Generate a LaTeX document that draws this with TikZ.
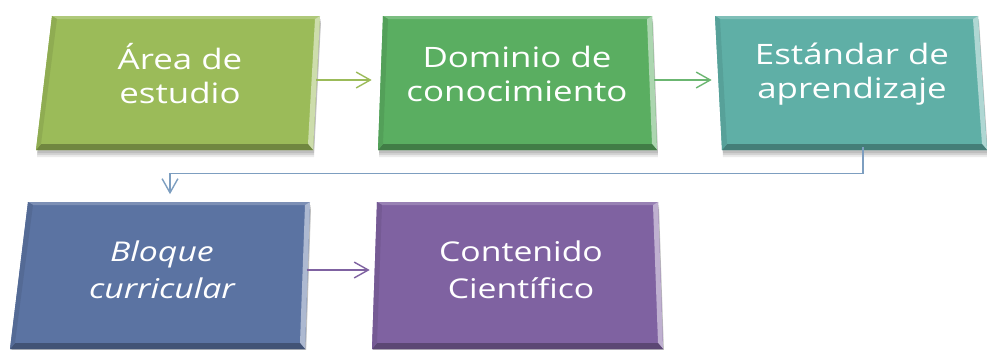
\documentclass[tikz,border=0pt]{standalone}
\usepackage{fontspec}
\setmainfont[FakeStretch=1.24]{Open Sans}
\usetikzlibrary{calc,arrows.meta}

\definecolor{areaclr}{HTML}{9BBB59}
\definecolor{dominioclr}{HTML}{5AAE61}
\definecolor{estandarclr}{HTML}{5FAFA6}
\definecolor{bloqueclr}{HTML}{5B73A2}
\definecolor{contenidoclr}{HTML}{7F62A1}
\definecolor{linkclr}{HTML}{7D9EC0}

% bevelled box: colour, top left, top right, bottom right, bottom left (pixels)
\newcommand{\bevelbox}[5]{%
  \coordinate (tl) at #2; \coordinate (tr) at #3;
  \coordinate (br) at #4; \coordinate (bl) at #5;
  \foreach \dy/\op in {3/0.10,5/0.10,7/0.08}
    \fill[black,opacity=\op] ($(tl)+(1,\dy)$) -- ($(tr)+(1,\dy)$)
      -- ($(br)+(1,\dy)$) -- ($(bl)+(1,\dy)$) -- cycle;
  \fill[#1] (tl) -- (tr) -- (br) -- (bl) -- cycle;
  \coordinate (itl) at ($(tl)+(5,3)$); \coordinate (itr) at ($(tr)+(-5,3)$);
  \coordinate (ibr) at ($(br)+(-5,-6)$); \coordinate (ibl) at ($(bl)+(5,-6)$);
  \fill[#1!80!white] (tl) -- (tr) -- (itr) -- (itl) -- cycle;
  \fill[#1!50!white] (tr) -- (br) -- (ibr) -- (itr) -- cycle;
  \fill[#1!72!black] (br) -- (bl) -- (ibl) -- (ibr) -- cycle;
  \fill[#1!92!black] (bl) -- (tl) -- (itl) -- (ibl) -- cycle;
}

\tikzset{
  boxtext/.style={text=white, align=center, inner sep=0pt,
    font=\fontsize{16}{19.4}\selectfont, minimum height=2.68cm},
  lowtext/.style={boxtext, font=\fontsize{15.5}{21}\selectfont, minimum height=2.7cm},
  link/.style={-{Straight Barb[length=8pt,width=9pt]}, line width=0.8pt,
    shorten >=0.16cm}
}

\begin{document}
\begin{tikzpicture}[x=0.02cm,y=-0.02cm]
  \useasboundingbox (0,0) rectangle (987,349);

  \bevelbox{areaclr}{(52,16)}{(320,16)}{(313,150)}{(36,150)}
  \bevelbox{dominioclr}{(383,16)}{(652,16)}{(657,150)}{(378,150)}
  \bevelbox{estandarclr}{(715,16)}{(978,16)}{(987,150)}{(722,150)}
  \bevelbox{bloqueclr}{(28,202)}{(310,202)}{(305,349)}{(10,349)}
  \bevelbox{contenidoclr}{(377,202)}{(658,202)}{(663,349)}{(372,349)}

  \node[boxtext,minimum width=5.44cm] (area) at (180,74) {Área de\\estudio};
  \node[boxtext,minimum width=5.48cm] (dominio) at (517,74) {Dominio de\\conocimiento};
  \node[boxtext,minimum width=5.28cm] (estandar) at (852,74) {Estándar de\\aprendizaje};
  \node[lowtext,minimum width=5.77cm,
        font=\fontsize{15.5}{21}\selectfont\itshape] (bloque) at (162,270) {Bloque\\curricular};
  \node[lowtext,minimum width=5.72cm] (contenido) at (521,270) {Contenido\\Científico};

  \draw[link,areaclr] ([yshift=-0.12cm]area.east) -- ([yshift=-0.12cm]dominio.west);
  \draw[link,dominioclr!90!white] ([yshift=-0.12cm]dominio.east) -- ([yshift=-0.12cm]estandar.west);
  \draw[link,linkclr] ([xshift=0.22cm,yshift=-0.12cm]estandar.south) -- ++(0,26) -| ([xshift=0.16cm]bloque.north);
  \draw[link,contenidoclr] (bloque.east) -- (contenido.west);
\end{tikzpicture}
\end{document}
